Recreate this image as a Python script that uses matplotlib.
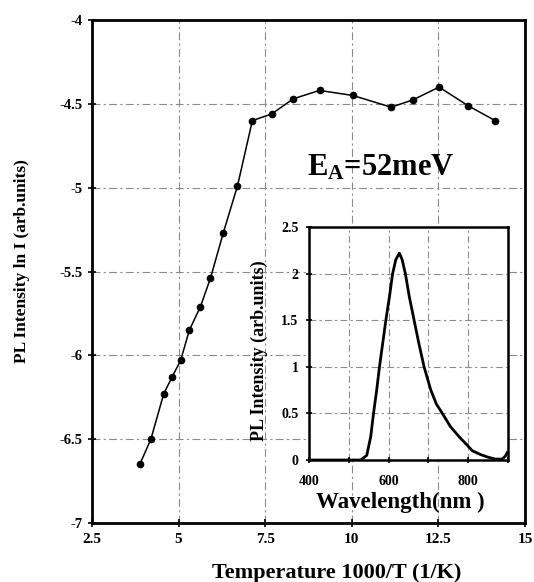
import matplotlib
matplotlib.use('Agg')
import matplotlib.pyplot as plt

# Arrhenius plot data
inv_temp = [3.88, 4.20, 4.57, 4.81, 5.06, 5.31, 5.63, 5.92, 6.29, 6.70,
            7.13, 7.69, 8.31, 9.07, 10.03, 11.14, 11.78, 12.52, 13.35, 14.14]
ln_pl = [-6.65, -6.50, -6.23, -6.13, -6.03, -5.85, -5.71, -5.54, -5.27, -4.99,
         -4.60, -4.56, -4.47, -4.42, -4.45, -4.52, -4.475, -4.40, -4.51, -4.60]

x_ticks = [2.5, 5, 7.5, 10, 12.5, 15]
x_tick_labels = ['2.5', '5', '7.5', '10', '12.5', '15']
y_ticks = [-7, -6.5, -6, -5.5, -5, -4.5, -4]
y_tick_labels = ['-7', '-6.5', '-6', '-5.5', '-5', '-4.5', '-4']

# PL spectrum (inset)
wavelength = [400, 450, 500, 530, 545, 555, 562, 570, 577, 585, 593, 602, 610,
              618, 627, 634, 642, 652, 664, 676, 689, 706, 720, 735, 755, 777,
              795, 810, 830, 850, 868, 885, 893, 898]
pl_int = [0, 0, 0, 0, 0.05, 0.25, 0.5, 0.75, 1.0, 1.25, 1.5, 1.75, 2.0,
          2.15, 2.22, 2.15, 2.0, 1.75, 1.5, 1.25, 1.0, 0.75, 0.6, 0.5, 0.36, 0.25,
          0.17, 0.1, 0.06, 0.03, 0.01, 0.01, 0.04, 0.08]
wl_ticks = [400, 500, 600, 700, 800, 900]
wl_tick_labels = ['400', '', '600', '', '800', '']
int_ticks = [0, 0.5, 1, 1.5, 2, 2.5]
int_tick_labels = ['0', '0.5', '1', '1.5', '2', '2.5']

plt.rcParams['font.family'] = ['Liberation Serif', 'DejaVu Serif']
plt.rcParams['font.weight'] = 'bold'
plt.rcParams['axes.labelweight'] = 'bold'
plt.rcParams['mathtext.fontset'] = 'custom'
plt.rcParams['mathtext.rm'] = 'Liberation Serif:bold'
plt.rcParams['mathtext.it'] = 'Liberation Serif:bold'
plt.rcParams['mathtext.bf'] = 'Liberation Serif:bold'

fig = plt.figure(figsize=(5.34, 5.82), dpi=100)

ax = fig.add_axes([0.1723, 0.1014, 0.8107, 0.8642])
ax.set_xlim(2.5, 15)
ax.set_ylim(-7, -4)
ax.set_xticks(x_ticks)
ax.set_xticklabels(x_tick_labels, fontsize=11)
ax.set_yticks(y_ticks)
ax.set_yticklabels(y_tick_labels, fontsize=10.5)
ax.tick_params(direction='inout', length=6, width=1.2)
ax.tick_params(axis='x', pad=4)
ax.tick_params(axis='y', pad=4)
ax.grid(True, color='#8a8a8a', linestyle=(0, (7, 3, 2, 3)), linewidth=0.8)
for s in ax.spines.values():
    s.set_linewidth(2.0)

ax.plot(inv_temp, ln_pl, '-', color='black', lw=1.1)
ax.plot(inv_temp, ln_pl, 'o', color='black', ms=4.5)
ax.text(8.7, -4.93, 'E$_{A}$=52meV', fontsize=22)

ax.set_xlabel('Temperature 1000/T (1/K)', fontsize=16)
ax.xaxis.set_label_coords(0.566, -0.08)
ax.set_ylabel('PL Intensity ln I (arb.units)', fontsize=12.5)
ax.yaxis.set_label_coords(-0.143, 0.52)

# inset
ins = fig.add_axes([0.5787, 0.2096, 0.3727, 0.4003])
ins.plot(wavelength, pl_int, color='black', lw=2)
ins.set_xlim(400, 900)
ins.set_ylim(0, 2.5)
ins.set_xticks(wl_ticks)
ins.set_xticklabels(wl_tick_labels, fontsize=10)
ins.set_yticks(int_ticks)
ins.set_yticklabels(int_tick_labels, fontsize=10)
ins.tick_params(direction='inout', length=5, width=1.2)
ins.tick_params(axis='x', pad=8)
ins.tick_params(axis='y', pad=5)
ins.grid(True, color='#8a8a8a', linestyle=(0, (6, 3, 2, 3)), linewidth=0.8)
for s in ins.spines.values():
    s.set_linewidth(1.8)
ins.set_xlabel('Wavelength(nm )', fontsize=16.5)
ins.xaxis.set_label_coords(0.457, -0.135)
ins.set_ylabel('PL Intensity (arb.units)', fontsize=13)
ins.yaxis.set_label_coords(-0.206, 0.47)

fig.savefig('out.png', dpi=100)
